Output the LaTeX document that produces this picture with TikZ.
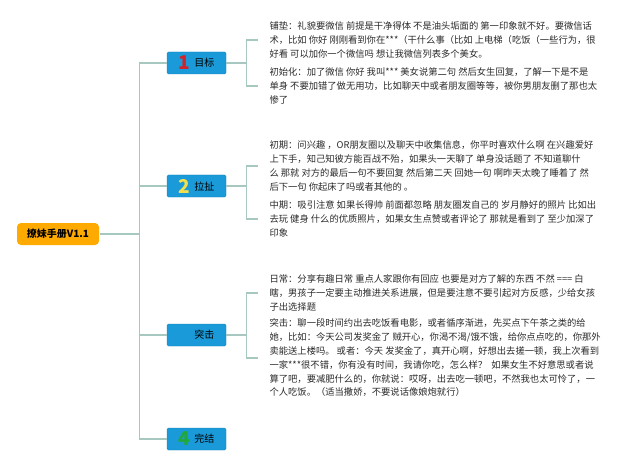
\documentclass[tikz,border=0pt]{standalone}
\usepackage{fontspec}
\setmainfont{Noto Sans CJK SC}
\definecolor{rootorange}{HTML}{FFAA00}
\definecolor{topicblue}{HTML}{1A9AD8}
\definecolor{linkgreen}{HTML}{A7C8C1}
\definecolor{textgray}{HTML}{2A2A2A}
\definecolor{numred}{HTML}{D2232A}
\definecolor{numyellow}{HTML}{F5DF4D}
\definecolor{numgreen}{HTML}{22A83A}

\begin{document}
\begin{tikzpicture}[x=1pt,y=-1pt,line width=1.1pt,
  root/.style={fill=rootorange,rounded corners=4pt,minimum width=82pt,minimum height=22pt,
    inner sep=0pt,font=\fontsize{10}{12}\selectfont\bfseries},
  topic/.style={fill=topicblue,draw=topicblue!85!black,line width=0.4pt,rounded corners=1.5pt,
    minimum width=59pt,minimum height=22pt,inner sep=0pt,font=\fontsize{10}{12}\selectfont},
  leaf/.style={anchor=west,align=left,inner xsep=11pt,inner ysep=0pt,text=textgray,
    font=\fontsize{9.3}{13.8}\selectfont},
  link/.style={draw=linkgreen}]
\def\bignum#1#2{\raisebox{-3pt}{\fontsize{19}{19}\selectfont\bfseries\color{#1}#2}\hspace{4pt}}
\useasboundingbox (0,0) rectangle (640,468);
% ---- root and topics ----
\node[root] (root) at (58,234) {撩妹手册V1.1};
\node[topic] (t1) at (196.5,63) {\bignum{numred}{1}目标};
\node[topic] (t2) at (196.5,186) {\bignum{numyellow}{2}拉扯};
\node[topic] (t3) at (196.5,335) {\phantom{\bignum{black}{3}}突击};
\node[topic] (t4) at (196.5,439) {\bignum{numgreen}{4}完结};
\foreach \t in {t1,t2,t3,t4}{
  \draw[link] (root.east) -- ++(40,0) |- (\t.west);
}
% ---- (1) 目标 ----
\node[leaf] (a1) at (258,40) {铺垫：礼貌要微信 前提是干净得体 不是油头垢面的 第一印象就不好。要微信话\\
术，比如 你好 刚刚看到你在***（干什么事（比如 上电梯（吃饭（一些行为，很\\
好看 可以加你一个微信吗 想让我微信列表多个美女。};
\node[leaf] (a2) at (258,86) {初始化：加了微信 你好 我叫*** 美女说第二句 然后女生回复，了解一下是不是\\
单身 不要加错了做无用功，比如聊天中或者朋友圈等等，被你男朋友删了那也太\\
惨了};
% ---- (2) 拉扯 ----
\node[leaf] (b1) at (258,166) {初期：问兴趣 ，OR朋友圈以及聊天中收集信息，你平时喜欢什么啊 在兴趣爱好\\
上下手，知己知彼方能百战不殆，如果头一天聊了 单身没话题了 不知道聊什\\
么 那就 对方的最后一句不要回复 然后第二天 回她一句 啊昨天太晚了睡着了 然\\
后下一句 你起床了吗或者其他的 。};
\node[leaf] (b2) at (258,219) {中期：吸引注意 如果长得帅 前面都忽略 朋友圈发自己的 岁月静好的照片 比如出\\
去玩 健身 什么的优质照片，如果女生点赞或者评论了 那就是看到了 至少加深了\\
印象};
% ---- (3) 突击 ----
\node[leaf] (c1) at (258,293) {日常：分享有趣日常 重点人家跟你有回应 也要是对方了解的东西 不然 === 白\\
瞎，男孩子一定要主动推进关系进展，但是要注意不要引起对方反感，少给女孩\\
子出选择题};
\node[leaf] (c2) at (258,358) {突击：聊一段时间约出去吃饭看电影，或者循序渐进，先买点下午茶之类的给\\
她，比如：今天公司发奖金了 贼开心，你渴不渴/饿不饿，给你点点吃的，你那外\\
卖能送上楼吗。 或者：今天 发奖金了，真开心啊，好想出去搓一顿，我上次看到\\
一家***很不错，你有没有时间，我请你吃，怎么样？ \ 如果女生不好意思或者说\\
算了吧，要减肥什么的，你就说：哎呀，出去吃一顿吧，不然我也太可怜了，一\\
个人吃饭。（适当撒娇，不要说话像娘炮就行）};
\foreach \t/\l in {t1/a1,t1/a2,t2/b1,t2/b2,t3/c1,t3/c2}{
  \draw[link] (\t.east) -- ++(20,0) |- (\l.west);
}
\end{tikzpicture}
\end{document}
